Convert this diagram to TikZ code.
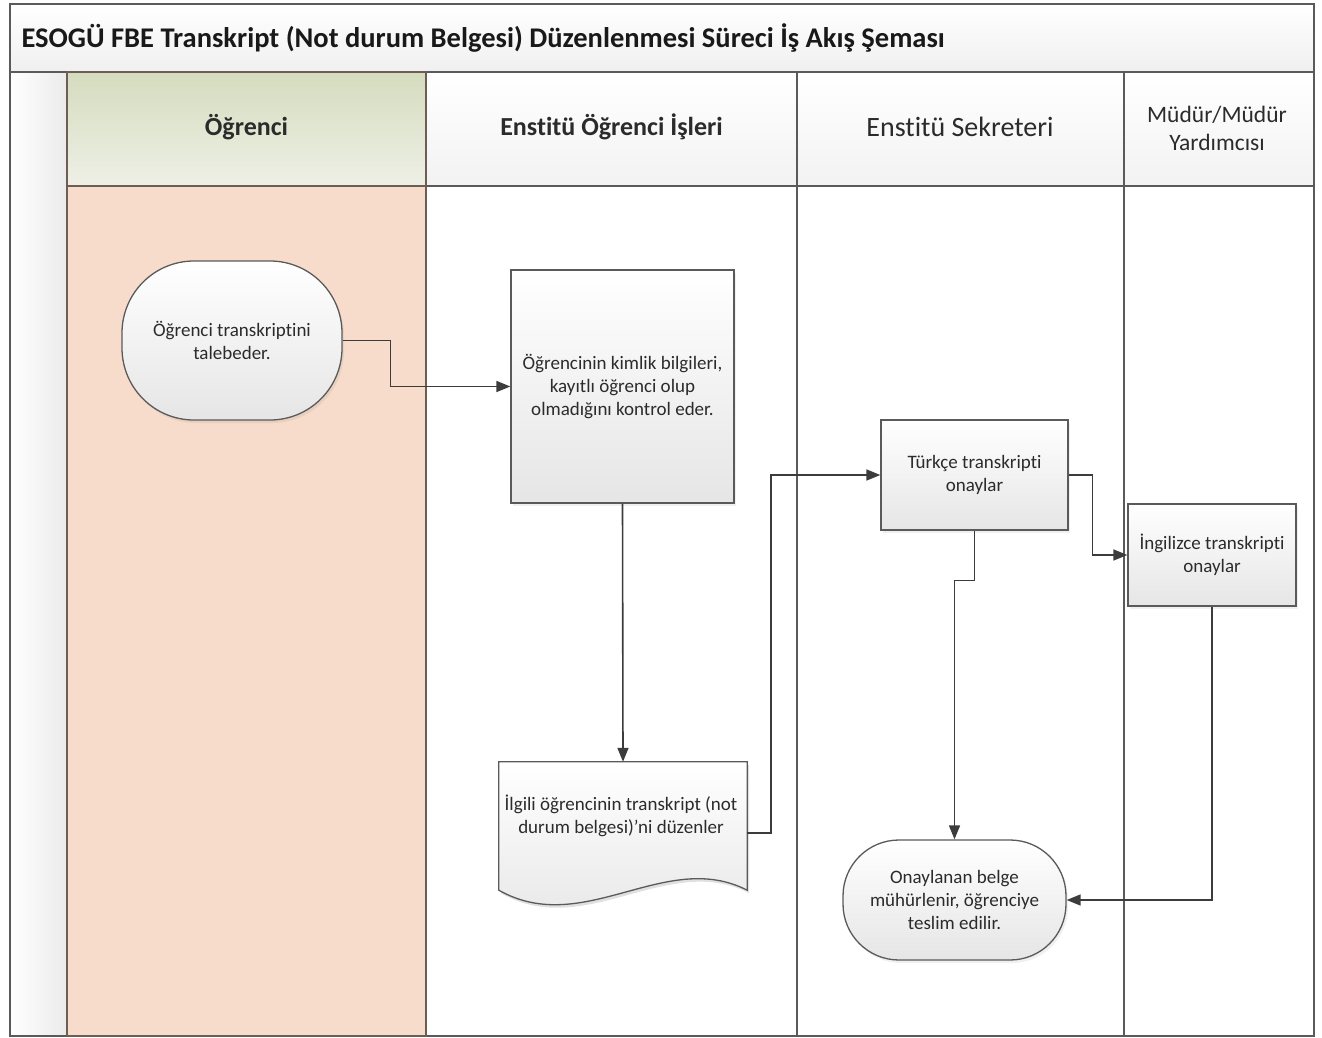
\documentclass[tikz,border=0pt]{standalone}
\usepackage{fontspec}
\setmainfont{Carlito}[Ligatures={NoCommon,NoContextual}]
\usetikzlibrary{arrows.meta,shadows,calc}
\definecolor{laneline}{HTML}{5A5A5A}
\definecolor{peach}{HTML}{F7DCCB}
\definecolor{greentop}{HTML}{D5DCBE}
\definecolor{greenbot}{HTML}{EEF0E6}
\definecolor{brownline}{HTML}{6D5D52}
\definecolor{ink}{HTML}{2B2B2B}
\definecolor{wire}{HTML}{3C3C3C}
\begin{document}
\begin{tikzpicture}[x=1pt,y=-1pt,
  font=\fontsize{19}{23}\selectfont, text=ink,
  frame/.style={draw=laneline,line width=1.3pt},
  shapefill/.style={draw=laneline,line width=1.3pt,top color=white,bottom color=black!10,
    drop shadow={opacity=0.12,shadow xshift=2pt,shadow yshift=-3pt}},
  procbox/.style={shapefill,rectangle,align=center,inner sep=0pt},
  terminal/.style={shapefill,rectangle,align=center,inner sep=0pt},
  flow/.style={draw=wire,line width=1.6pt,-{Triangle[length=14pt,width=11pt]}},
  lanehead/.style={align=center,font=\fontsize{28}{32}\selectfont},
  boldhead/.style={align=center,font=\bfseries\fontsize{26}{30}\selectfont}
]
\useasboundingbox (0,0) rectangle (1322,1038);

% title band
\shade[top color=white,bottom color=black!6] (10,4) rectangle (1314,72);
% left strip
\shade[left color=white,right color=black!8] (10,72) rectangle (67,1036);
% header band of the other lanes
\shade[top color=white,bottom color=black!5] (426,72) rectangle (1314,186);
% first lane: header and body
\shade[top color=greentop,bottom color=greenbot] (67,72) rectangle (426,186);
\fill[peach] (67,186) rectangle (426,1036);

% lane frames
\draw[frame] (10,4) rectangle (1314,1036);
\draw[frame] (10,72) -- (1314,72);
\draw[frame] (426,186) -- (1314,186);
\draw[frame] (797,72) -- (797,1036);
\draw[frame] (1124,72) -- (1124,1036);
\draw[draw=brownline,line width=1.4pt] (67,72) rectangle (426,1036);
\draw[draw=brownline,line width=1.4pt] (67,186) -- (426,186);

% title and lane headings
\node[anchor=west,font=\bfseries\fontsize{28.5}{32}\selectfont,text=black!90] (title) at (18,38)
  {ESOGÜ FBE Transkript (Not durum Belgesi) Düzenlenmesi Süreci İş Akış Şeması};
\node[boldhead] (h1) at (246.5,127) {Öğrenci};
\node[boldhead] (h2) at (611.5,127) {Enstitü Öğrenci İşleri};
\node[lanehead] (h3) at (960,127) {Enstitü Sekreteri};
\node[lanehead,font=\fontsize{23.5}{28}\selectfont] (h4) at (1217,128) {Müdür/Müdür\\Yardımcısı};

% steps
\node[terminal,rounded corners=72pt,minimum width=220pt,minimum height=159pt] (start) at (232,340.5)
  {Öğrenci transkriptini\\talebeder.};
\node[procbox,minimum width=223pt,minimum height=233pt] (check) at (622.5,386.5)
  {Öğrencinin kimlik bilgileri,\\kayıtlı öğrenci olup\\olmadığını kontrol eder.};
\node[minimum width=248pt,minimum height=128pt,inner sep=0pt] (doc) at (623,826) {};
\fill[black,opacity=0.12] ([shift={(2,3)}]doc.north west) -- ([shift={(2,3)}]doc.north east)
  -- ([shift={(2,3)}]doc.south east)
  .. controls ++(-82,-42) and ++(85,48) .. ([shift={(2,3)}]doc.south west) -- cycle;
\draw[draw=laneline,line width=1.3pt,top color=white,bottom color=black!10]
  (doc.north west) -- (doc.north east) -- (doc.south east)
  .. controls ++(-82,-42) and ++(85,48) .. (doc.south west) -- cycle;
\node[align=center] (doctext) at (621,816)
  {İlgili öğrencinin transkript (not\\durum belgesi)’ni düzenler};
\node[procbox,minimum width=187pt,minimum height=110pt] (turk) at (974.5,475)
  {Türkçe transkripti\\onaylar};
\node[procbox,minimum width=168pt,minimum height=102pt] (eng) at (1212,555)
  {İngilizce transkripti\\onaylar};
\node[terminal,rounded corners=56pt,minimum width=223pt,minimum height=120pt] (end) at (954.5,900)
  {Onaylanan belge\\mühürlenir, öğrenciye\\teslim edilir.};

% connectors
\draw[flow] (start.east) -- ++(48,0) |- (check.west);
\draw[flow] (check.south) -- (doc.north);
\draw[flow] ($(doc.east)+(0,7)$) -- ++(24,0) |- (turk.west);
\draw[flow] (turk.east) -- ++(24,0) |- (eng.west);
\draw[flow] (turk.south) -- ++(0,50) -| (end.north);
\draw[flow] (eng.south) |- (end.east);
\end{tikzpicture}
\end{document}
